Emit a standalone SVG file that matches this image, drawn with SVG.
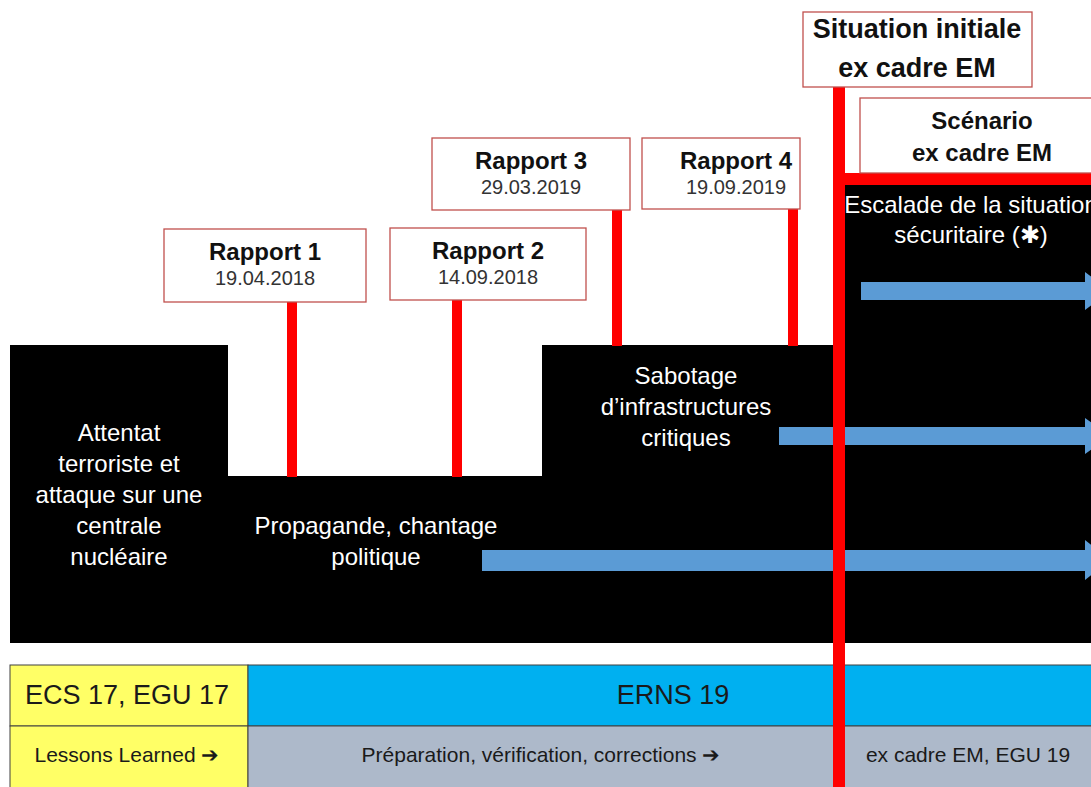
<svg xmlns="http://www.w3.org/2000/svg" width="1091" height="787" viewBox="0 0 1091 787">
<style>
.box{fill:#fff;stroke:#C0504D;stroke-width:1.3}
.t{font-family:"Liberation Sans",Arial,sans-serif;text-anchor:middle}
.title{font-weight:bold;font-size:24px;fill:#111}
.date{font-size:20px;fill:#333}
.w{font-size:24px;fill:#fff}
.stem{fill:#FF0000}
.arr{fill:#5B9BD5}
.cell{stroke:#404040;stroke-width:1}
.tb{font-size:27px;fill:#1a1a1a}
.ts{font-size:21px;fill:#1a1a1a}
</style>
<rect width="1091" height="787" fill="#fff"/>
<g id="phases">
<path d="M10 345 H228 V476 H542 V345 H845 V185 H1091 V643 H10 Z" fill="#000"/>
<text class="t w" x="119" y="441">Attentat</text>
<text class="t w" x="119" y="472">terroriste et</text>
<text class="t w" x="119" y="503">attaque sur une</text>
<text class="t w" x="119" y="534">centrale</text>
<text class="t w" x="119" y="565">nucléaire</text>
<text class="t w" x="376" y="534">Propagande, chantage</text>
<text class="t w" x="376" y="565">politique</text>
<text class="t w" x="686" y="384">Sabotage</text>
<text class="t w" x="686" y="415">d’infrastructures</text>
<text class="t w" x="686" y="446">critiques</text>
<text class="t w" x="971" y="213">Escalade de la situation</text>
<text class="t w" x="971" y="243">sécuritaire (✱)</text>
</g>
<g id="table">
<rect class="cell" x="10" y="665" width="238" height="61" fill="#FFFF66"/>
<rect class="cell" x="248" y="665" width="850" height="61" fill="#00B0F0"/>
<rect class="cell" x="10" y="726" width="238" height="70" fill="#FFFF66"/>
<rect class="cell" x="248" y="726" width="850" height="70" fill="#ADB9CA"/>
<text class="t tb" x="127" y="704">ECS 17, EGU 17</text>
<text class="t tb" x="673" y="704">ERNS 19</text>
<text class="t ts" x="127" y="762">Lessons Learned ➔</text>
<text class="t ts" x="541" y="762">Préparation, vérification, corrections ➔</text>
<text class="t ts" x="968" y="762">ex cadre EM, EGU 19</text>
</g>
<g id="connectors">
<rect class="stem" x="287" y="301" width="10" height="176"/>
<rect class="stem" x="452" y="299" width="10" height="178"/>
<rect class="stem" x="612" y="209" width="10" height="137"/>
<rect class="stem" x="788" y="208" width="10" height="138"/>
<polygon class="arr" points="861,282 1085,282 1085,272 1110,291 1085,310 1085,300 861,300"/>
<polygon class="arr" points="779,427 1085,427 1085,418 1110,436 1085,454 1085,445 779,445"/>
<polygon class="arr" points="482,550 1085,550 1085,540 1110,560 1085,580 1085,571 482,571"/>
<rect class="stem" x="833" y="87" width="12" height="700"/>
<rect class="stem" x="833" y="173" width="258" height="12"/>
</g>
<g id="rapport1">
<rect class="box" x="164" y="229" width="202" height="73"/>
<text class="t title" x="265" y="260">Rapport 1</text>
<text class="t date" x="265" y="285">19.04.2018</text>
</g>
<g id="rapport2">
<rect class="box" x="390" y="228" width="196" height="72"/>
<text class="t title" x="488" y="259">Rapport 2</text>
<text class="t date" x="488" y="284">14.09.2018</text>
</g>
<g id="rapport3">
<rect class="box" x="432" y="138" width="198" height="72"/>
<text class="t title" x="531" y="169">Rapport 3</text>
<text class="t date" x="531" y="194">29.03.2019</text>
</g>
<g id="rapport4">
<rect class="box" x="642" y="138" width="158" height="71"/>
<text class="t title" x="736" y="169">Rapport 4</text>
<text class="t date" x="736" y="194">19.09.2019</text>
</g>
<g id="situation-initiale">
<rect class="box" x="803" y="12" width="229" height="75"/>
<text class="t" x="917" y="38" font-size="27" font-weight="bold" fill="#111">Situation initiale</text>
<text class="t" x="917" y="77" font-size="27" font-weight="bold" fill="#111">ex cadre EM</text>
</g>
<g id="scenario">
<rect class="box" x="860" y="98" width="240" height="75"/>
<text class="t title" x="982" y="129">Scénario</text>
<text class="t title" x="982" y="161">ex cadre EM</text>
</g>
</svg>
